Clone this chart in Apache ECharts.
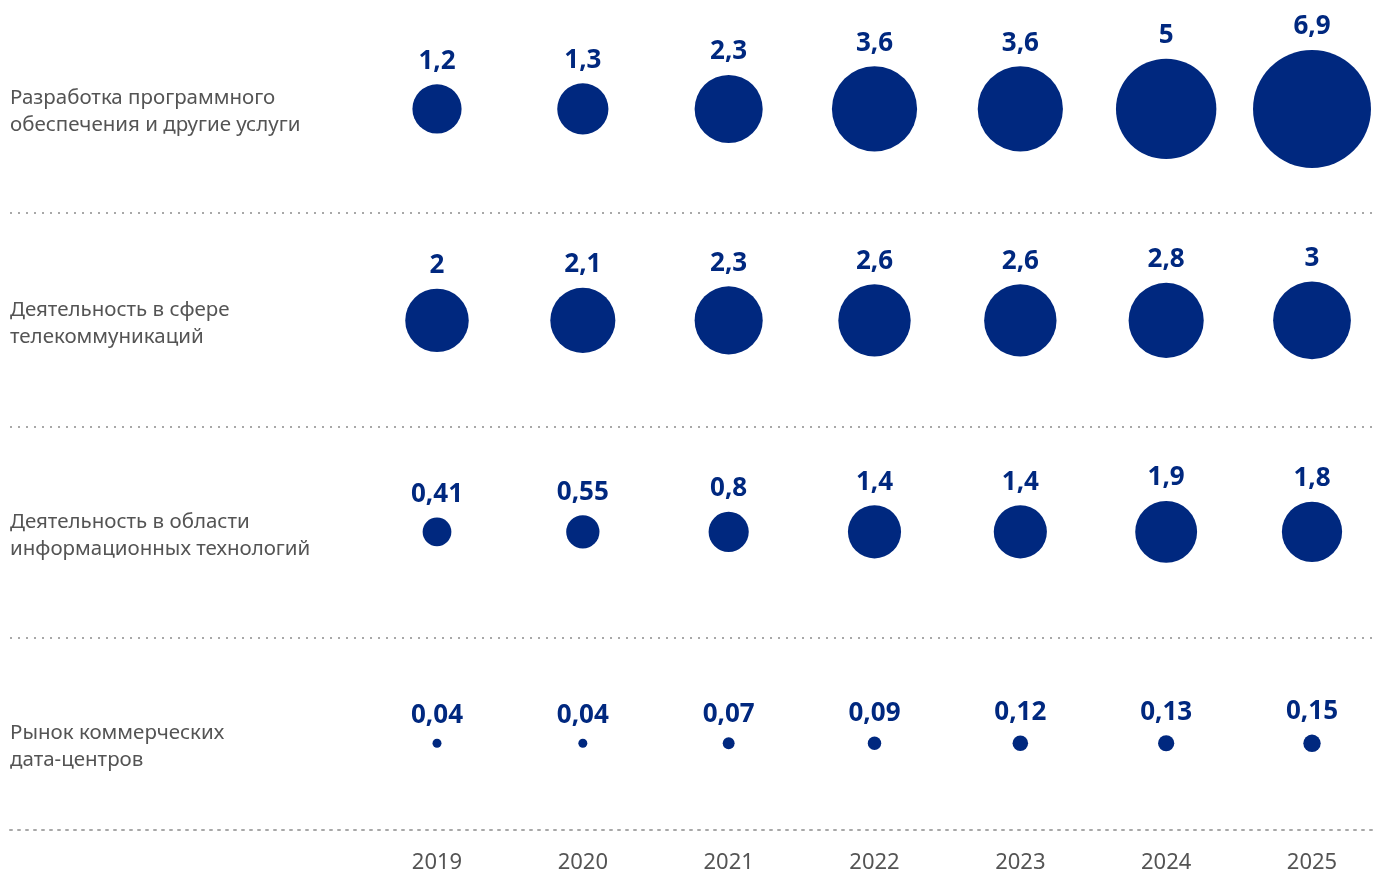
<!DOCTYPE html>
<html>
<head>
<meta charset="utf-8">
<script src="https://cdn.jsdelivr.net/npm/echarts@6/dist/echarts.min.js"></script>
<style>
html,body{margin:0;padding:0;background:#fff;}
#chart{width:1374px;height:874px;}
</style>
</head>
<body>
<div id="chart"></div>
<script>
const years = ['2019','2020','2021','2022','2023','2024','2025'];
const categories = [
  'Разработка программного\nобеспечения и другие услуги',
  'Деятельность в сфере\nтелекоммуникаций',
  'Деятельность в области\nинформационных технологий',
  'Рынок коммерческих\nдата-центров'
];
const software = [1.2, 1.3, 2.3, 3.6, 3.6, 5, 6.9];
const telecom = [2, 2.1, 2.3, 2.6, 2.6, 2.8, 3];
const itActivity = [0.41, 0.55, 0.8, 1.4, 1.4, 1.9, 1.8];
const dataCenters = [0.04, 0.04, 0.07, 0.09, 0.12, 0.13, 0.15];
const separators = [0.49, 1.5, 2.5];

const rows = [software, telecom, itActivity, dataCenters];
const points = [];
rows.forEach((vals, r) => vals.forEach((v, i) => points.push([i, r, v])));

const BLUE = '#00287f';
const GRAY = '#545454';
const DOT = { color: '#a8a8a8', width: 2, type: [2, 6] };
const FONT = '"Noto Sans", "Open Sans", sans-serif';
const TOP = 3.2, H = 846.7;

const chart = echarts.init(document.getElementById('chart'));
chart.setOption({
  animation: false,
  backgroundColor: '#ffffff',
  textStyle: { fontFamily: FONT },
  grid: [
    { left: 437, width: 875, top: TOP, height: H },
    { left: 10, right: 0, top: TOP, height: H },
    { left: 10, right: 0, top: TOP + 3, height: H }
  ],
  xAxis: [
    {
      gridIndex: 0, type: 'category', data: years, boundaryGap: false,
      axisLine: { show: false }, axisTick: { show: false },
      axisLabel: { color: GRAY, fontSize: 22, margin: 3, fontFamily: FONT, interval: 0 },
      splitLine: { show: false }
    },
    {
      gridIndex: 1, type: 'category', data: [''], offset: -20,
      axisLine: { show: true, onZero: false, lineStyle: DOT },
      axisTick: { show: false }, axisLabel: { show: false }
    },
    {
      gridIndex: 2, type: 'category', data: [''], show: false
    }
  ],
  yAxis: [
    {
      gridIndex: 0, type: 'category', data: categories, inverse: true,
      axisLine: { show: false }, axisTick: { show: false }, axisLabel: { show: false },
      splitLine: { show: false }
    },
    {
      gridIndex: 1, type: 'value', min: -0.5, max: 3.5, inverse: true, show: false,
      splitLine: { show: false }
    },
    {
      gridIndex: 2, type: 'category', data: categories, inverse: true,
      axisLine: { show: false }, axisTick: { show: false },
      axisLabel: {
        inside: true, margin: 0, color: GRAY, fontSize: 20.5, lineHeight: 27,
        fontFamily: FONT, align: 'left'
      },
      splitLine: { show: false }
    }
  ],
  series: [
    {
      type: 'scatter',
      xAxisIndex: 0, yAxisIndex: 0,
      data: points,
      symbolSize: function (d) { return 44.9 * Math.sqrt(d[2]); },
      itemStyle: { color: BLUE, opacity: 1 },
      label: {
        show: true, position: 'top', distance: 10,
        color: BLUE, fontSize: 26, fontWeight: 'bold', fontFamily: FONT,
        formatter: function (p) { return String(p.value[2]).replace('.', ','); }
      },
      emphasis: { disabled: true }
    },
    {
      type: 'scatter',
      xAxisIndex: 1, yAxisIndex: 1,
      data: [],
      silent: true,
      markLine: {
        silent: true, symbol: 'none', animation: false,
        label: { show: false },
        lineStyle: DOT,
        emphasis: { disabled: true },
        data: separators.map(v => ({ yAxis: v }))
      }
    }
  ]
});
</script>
</body>
</html>
